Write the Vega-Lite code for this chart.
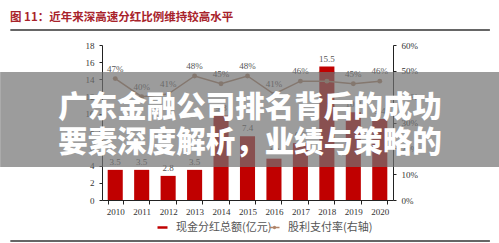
{
  "$schema": "https://vega.github.io/schema/vega-lite/v6.json",
  "width": 291,
  "height": 155,
  "autosize": {"type": "none"},
  "padding": {"left": 102, "top": 45, "right": 106, "bottom": 43},
  "background": "white",
  "config": {
    "view": {"stroke": null},
    "axis": {"grid": false, "domainColor": "#222", "tickColor": "#222", "labelColor": "#333", "labelFont": "Liberation Serif", "labelFontSize": 9, "title": null, "labelOverlap": false}
  },
  "title": {"text": "图 11：近年来深高速分红比例维持较高水平", "anchor": "start", "frame": "group", "dx": -92, "offset": 6, "font": "Noto Sans CJK SC", "fontSize": 11.5, "fontWeight": "bold", "color": "#a8232b"},
  "datasets": {
    "main": [
      {"year": "2010", "amount": 3.5, "payout": 0.47},
      {"year": "2011", "amount": 3.5, "payout": 0.40},
      {"year": "2012", "amount": 2.8, "payout": 0.41},
      {"year": "2013", "amount": 3.5, "payout": 0.48},
      {"year": "2014", "amount": 9.8, "payout": 0.45},
      {"year": "2015", "amount": 7.4, "payout": 0.48},
      {"year": "2016", "amount": 4.8, "payout": 0.41},
      {"year": "2017", "amount": 6.6, "payout": 0.46},
      {"year": "2018", "amount": 15.5, "payout": 0.46},
      {"year": "2019", "amount": 10.2, "payout": 0.45},
      {"year": "2020", "amount": 9.4, "payout": 0.46}
    ],
    "band": [{"bx": -0.35, "bx2": 1.37, "by": 3.83, "by2": 14.86}],
    "bannertext": [
      {"t": "广东金融公司排名背后的成功", "bx": 0.509, "by": 10.68},
      {"t": "要素深度解析，业绩与策略的", "bx": 0.509, "by": 6.62}
    ],
    "rules": [
      {"bx": -0.315, "bx2": 1.333, "by": 19.74},
      {"bx": -0.315, "bx2": 1.333, "by": -4.76}
    ]
  },
  "layer": [
    {
      "data": {"name": "main"},
      "encoding": {
        "x": {"field": "year", "type": "ordinal", "scale": {"paddingInner": 0.43, "paddingOuter": 0.215}, "axis": {"labelAngle": 0, "tickBand": "extent", "tickSize": 4, "labelPadding": 3}}
      },
      "layer": [
        {
          "mark": {"type": "text", "dy": -10, "font": "Liberation Serif", "fontSize": 9, "color": "#555"},
          "encoding": {
            "y": {"field": "payout", "type": "quantitative", "scale": {"domain": [0, 0.6], "nice": false}, "axis": null},
            "text": {"field": "payout", "type": "quantitative", "format": ".0%"}
          }
        },
        {
          "layer": [
            {
              "mark": {"type": "bar"},
              "encoding": {
                "y": {"field": "amount", "type": "quantitative", "scale": {"domain": [0, 18], "nice": false}, "axis": {"orient": "left", "tickCount": 9, "tickSize": 3, "labelPadding": 5, "labelOverlap": false, "labelFlush": false}},
                "color": {"datum": "现金分红总额(亿元)", "type": "nominal", "scale": {"range": ["#c00000"]}, "legend": {"orient": "none", "legendX": 55, "legendY": 177, "title": null, "symbolType": "M-1.6,-0.4H1.6V0.4H-1.6Z", "symbolSize": 39, "labelOffset": 8, "labelFont": "Noto Sans CJK SC", "labelFontSize": 11, "labelColor": "#555", "labelLimit": 200}}
              }
            },
            {
              "mark": {"type": "text", "baseline": "bottom", "dy": -3, "font": "Liberation Serif", "fontSize": 9, "color": "#555"},
              "encoding": {
                "y": {"field": "amount", "type": "quantitative"},
                "text": {"field": "amount", "type": "quantitative", "format": ".1f"}
              }
            }
          ]
        },
        {
          "layer": [
            {
              "mark": {"type": "line", "strokeWidth": 1.5},
              "encoding": {
                "y": {"field": "payout", "type": "quantitative", "scale": {"domain": [0, 0.6], "nice": false}, "axis": {"orient": "right", "format": ".0%", "tickCount": 6, "tickSize": 3, "labelPadding": 5, "labelOverlap": false, "labelFlush": false}},
                "stroke": {"datum": "股利支付率(右轴)", "type": "nominal", "scale": {"range": ["#b0856a"]}, "legend": {"orient": "none", "legendX": 167, "legendY": 177, "title": null, "symbolType": "M-1.6,0H1.6M-0.3,0A0.3,0.3,0,1,1,0.3,0A0.3,0.3,0,1,1,-0.3,0Z", "symbolSize": 39, "symbolStrokeWidth": 1.5, "symbolFillColor": "#b0856a", "labelOffset": 8, "labelFont": "Noto Sans CJK SC", "labelFontSize": 11, "labelColor": "#555", "labelLimit": 200}}
              }
            },
            {
              "mark": {"type": "point", "filled": true, "size": 24, "color": "#b0856a", "opacity": 1},
              "encoding": {
                "y": {"field": "payout", "type": "quantitative"}
              }
            }
          ]
        }
      ],
      "resolve": {"scale": {"y": "independent"}}
    },
    {
      "encoding": {
        "x": {"field": "bx", "type": "quantitative", "scale": {"domain": [0, 1], "nice": false, "zero": false}, "axis": null},
        "y": {"field": "by", "type": "quantitative", "scale": {"domain": [0, 18], "nice": false, "zero": false}, "axis": null}
      },
      "layer": [
        {
          "data": {"name": "band"},
          "mark": {"type": "rect", "color": "#727272", "opacity": 0.7},
          "encoding": {"x2": {"field": "bx2"}, "y2": {"field": "by2"}}
        },
        {
          "data": {"name": "bannertext"},
          "mark": {"type": "text", "align": "center", "baseline": "middle", "font": "Noto Sans CJK SC", "fontSize": 29.5, "fontWeight": 900, "color": "white"},
          "encoding": {"text": {"field": "t"}}
        },
        {
          "data": {"name": "rules"},
          "mark": {"type": "rule", "color": "#333", "strokeWidth": 1.5},
          "encoding": {"x2": {"field": "bx2"}}
        }
      ]
    }
  ],
  "resolve": {"scale": {"x": "independent", "y": "independent"}}
}
